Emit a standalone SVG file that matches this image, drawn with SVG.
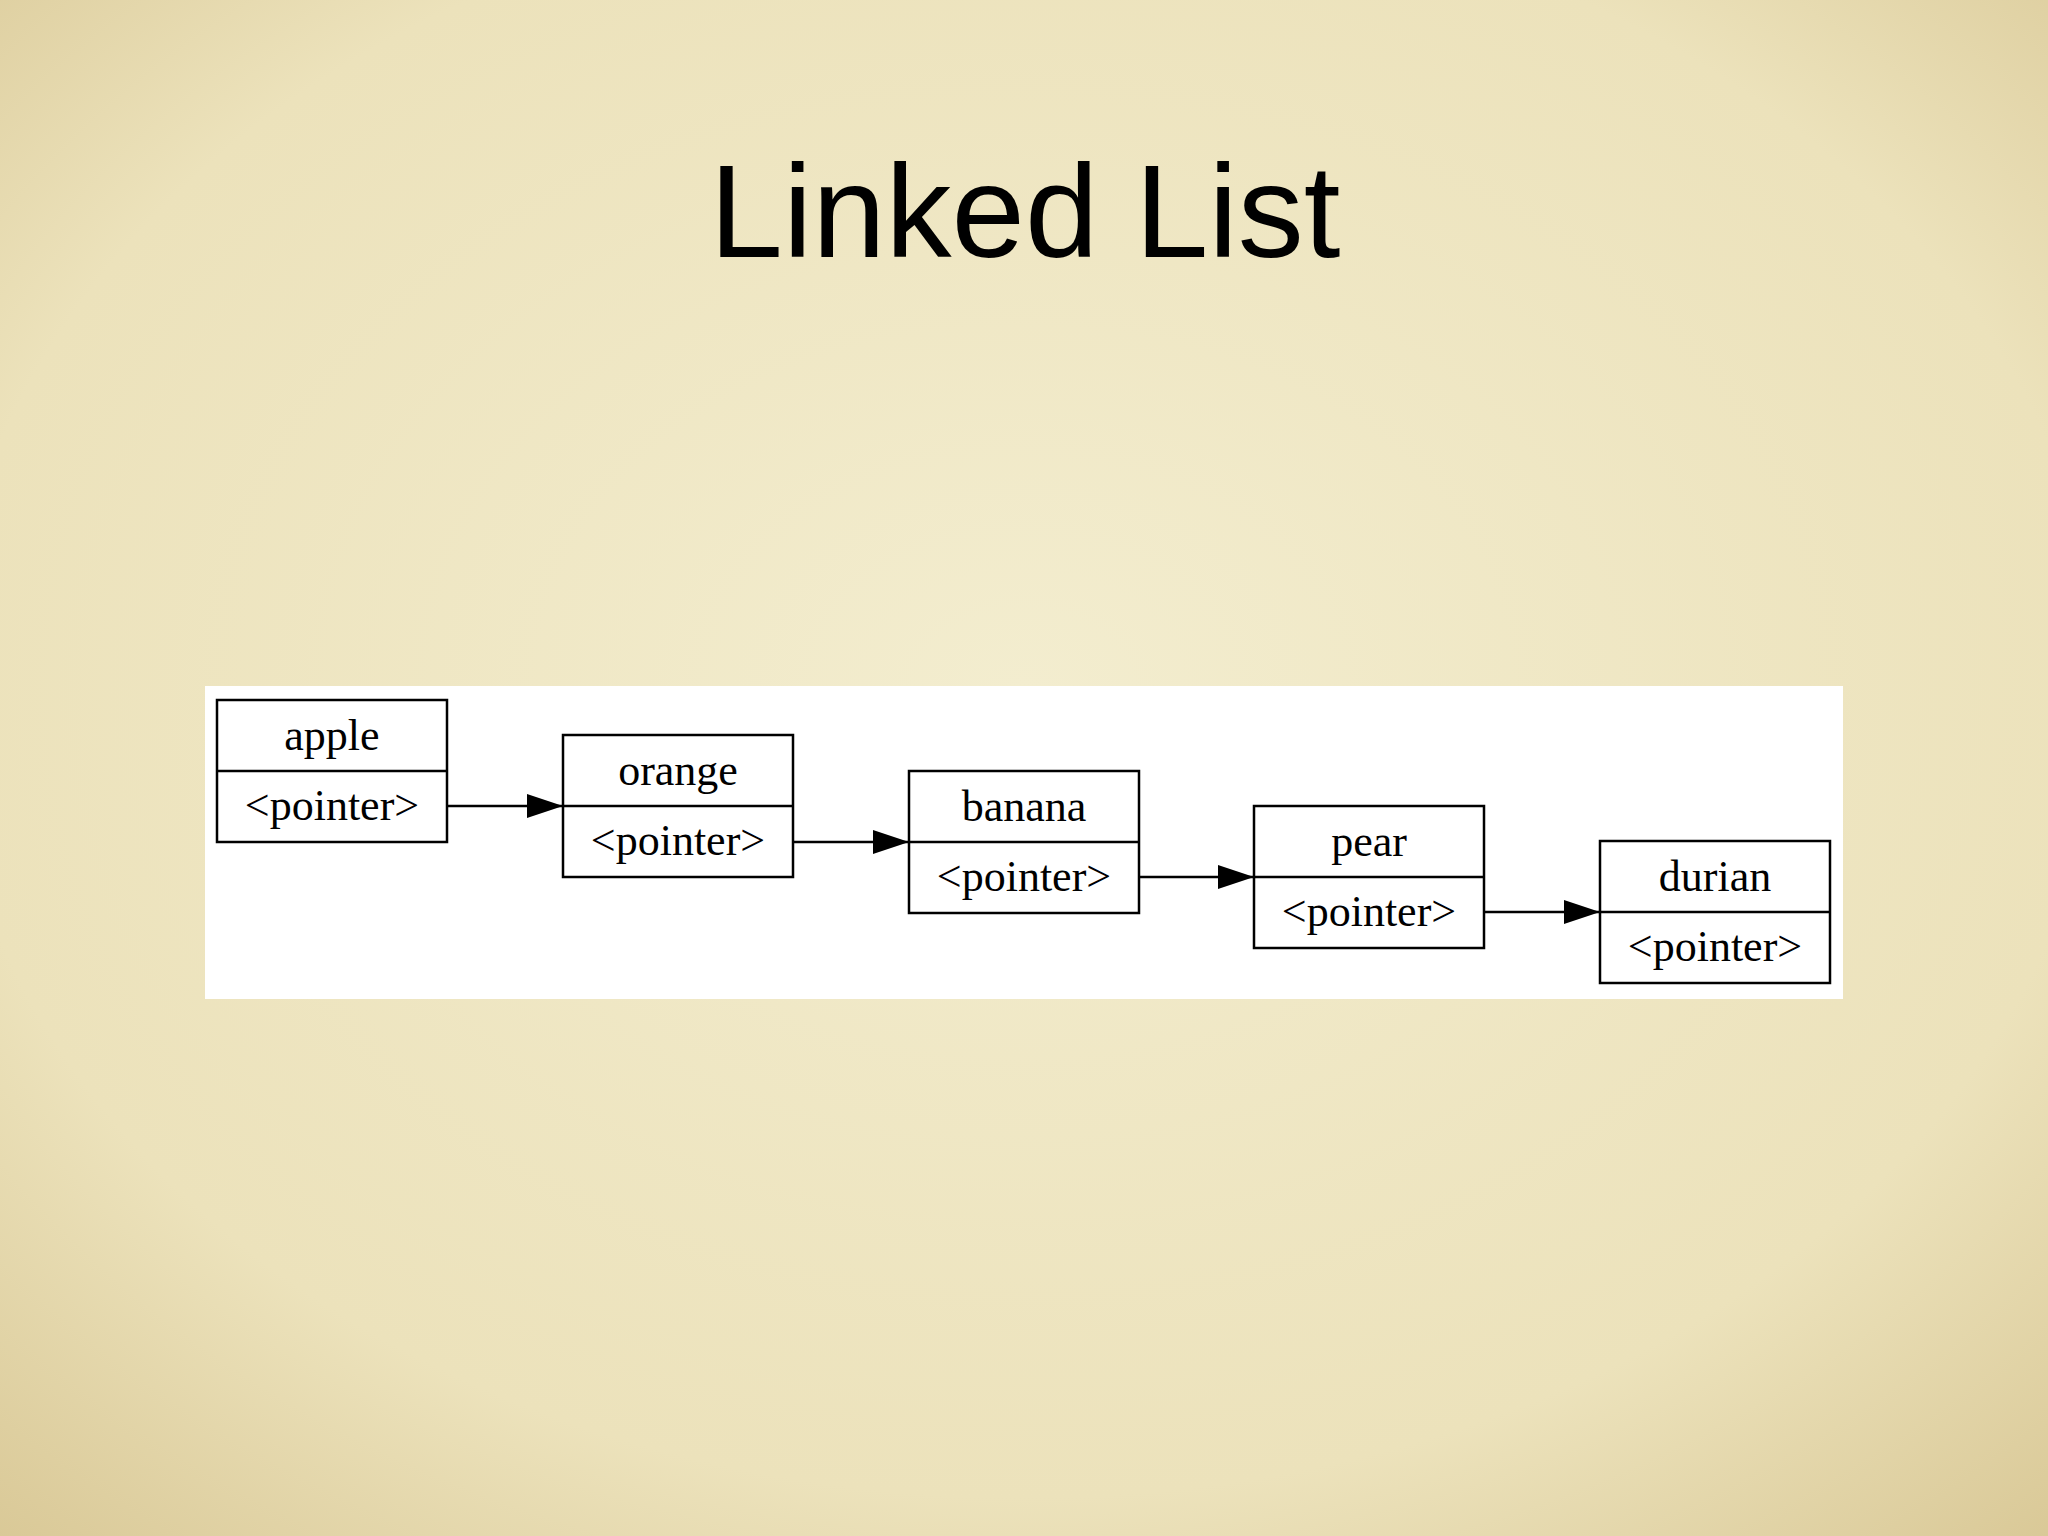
<svg xmlns="http://www.w3.org/2000/svg" width="2048" height="1536" viewBox="0 0 2048 1536">
<defs>
<radialGradient id="bg" cx="50%" cy="45%" r="75%">
<stop offset="0" stop-color="#f3edcf"/>
<stop offset="0.7" stop-color="#ece2bb"/>
<stop offset="1" stop-color="#d9c896"/>
</radialGradient>
<marker id="ah" markerWidth="36" markerHeight="24" refX="36" refY="12" orient="auto" markerUnits="userSpaceOnUse" viewBox="0 0 36 24">
<path d="M0,0 L36,12 L0,24 z" fill="#000"/>
</marker>
<style>
.box{fill:#fff;stroke:#000;stroke-width:2.5}
.t{font-family:"Liberation Serif",serif;font-size:44px;text-anchor:middle;fill:#000}
.c{stroke:#000;stroke-width:2.5;fill:none}
</style>
</defs>
<rect width="2048" height="1536" fill="url(#bg)"/>
<text x="1025" y="257" font-family="Liberation Sans, Arial, sans-serif" font-size="132" text-anchor="middle" fill="#000">Linked List</text>
<rect x="205" y="686" width="1638" height="313" fill="#fff"/>
<g id="apple"><rect class="box" x="217" y="700" width="230" height="142"/><line class="c" x1="217" y1="771" x2="447" y2="771"/><text class="t" x="332" y="750">apple</text><text class="t" x="332" y="820">&lt;pointer&gt;</text></g>
<g id="orange"><rect class="box" x="563" y="735" width="230" height="142"/><line class="c" x1="563" y1="806" x2="793" y2="806"/><text class="t" x="678" y="785">orange</text><text class="t" x="678" y="855">&lt;pointer&gt;</text></g>
<g id="banana"><rect class="box" x="909" y="771" width="230" height="142"/><line class="c" x1="909" y1="842" x2="1139" y2="842"/><text class="t" x="1024" y="821">banana</text><text class="t" x="1024" y="891">&lt;pointer&gt;</text></g>
<g id="pear"><rect class="box" x="1254" y="806" width="230" height="142"/><line class="c" x1="1254" y1="877" x2="1484" y2="877"/><text class="t" x="1369" y="856">pear</text><text class="t" x="1369" y="926">&lt;pointer&gt;</text></g>
<g id="durian"><rect class="box" x="1600" y="841" width="230" height="142"/><line class="c" x1="1600" y1="912" x2="1830" y2="912"/><text class="t" x="1715" y="891">durian</text><text class="t" x="1715" y="961">&lt;pointer&gt;</text></g>
<g id="connectors">
<line class="c" x1="447" y1="806" x2="563" y2="806" marker-end="url(#ah)"/>
<line class="c" x1="793" y1="842" x2="909" y2="842" marker-end="url(#ah)"/>
<line class="c" x1="1139" y1="877" x2="1254" y2="877" marker-end="url(#ah)"/>
<line class="c" x1="1484" y1="912" x2="1600" y2="912" marker-end="url(#ah)"/>
</g>
</svg>
